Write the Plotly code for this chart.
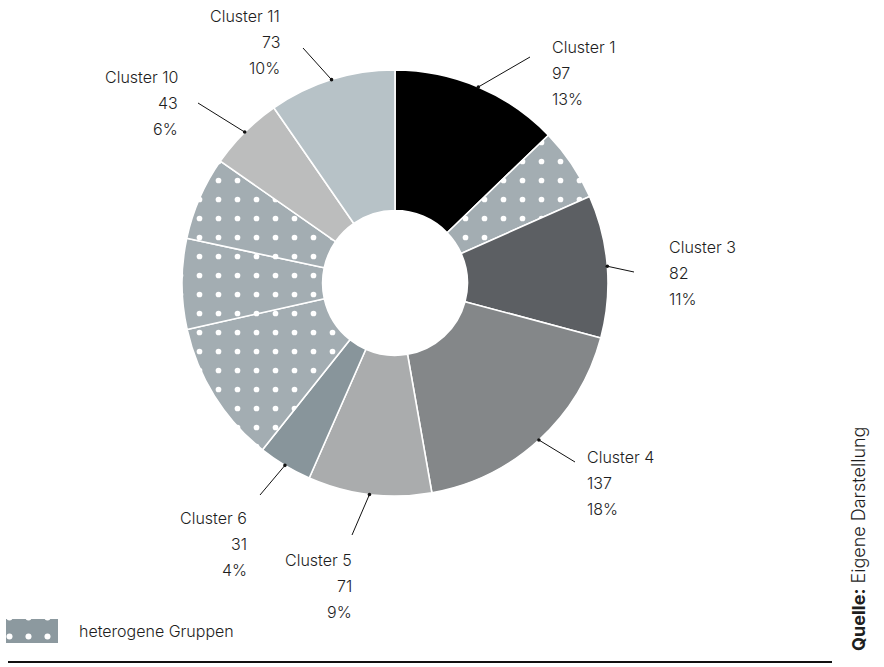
import math
import plotly.graph_objects as go

# Cluster sizes, clockwise from 12 o'clock
clusters = ["Cluster 1", "Cluster 2", "Cluster 3", "Cluster 4", "Cluster 5", "Cluster 6",
            "Cluster 7", "Cluster 8", "Cluster 9", "Cluster 10", "Cluster 11"]
counts = [97, 42, 82, 137, 71, 31, 82, 52, 48, 43, 73]
heterogeneous = [False, True, False, False, False, False, True, True, True, False, False]
colors = ["#000000", "#a3adb2", "#5c5f63", "#848789", "#aaacad", "#88959b",
          "#a3adb2", "#a3adb2", "#a3adb2", "#bcbdbd", "#b7c2c7"]
legend_label = "heterogene Gruppen"
source_text = "<b>Quelle:</b> Eigene Darstellung"

W, H = 884, 667
CX, CY, R = 395, 283, 213
HOLE = 0.34
FONT = "Inter"
WEIGHT = 300
TXT = "#1e1e1e"

# label placement: (line end x, line end y, text x, anchor, first line y)
label_pos = {
    "Cluster 1": (530, 57, 550, "left", 47),
    "Cluster 3": (634, 272, 667, "left", 247),
    "Cluster 4": (575, 462, 585, "left", 457),
    "Cluster 5": (352, 535, 354, "right", 560),
    "Cluster 6": (260, 495, 249, "right", 518),
    "Cluster 10": (198, 103, 180, "right", 77),
    "Cluster 11": (303, 48, 282, "right", 16),
}
LINE_GAP = 26

total = sum(counts)

fig = go.Figure()

fig.add_trace(go.Pie(
    labels=clusters,
    values=counts,
    sort=False,
    direction="clockwise",
    rotation=0,
    hole=HOLE,
    textinfo="none",
    hoverinfo="label+value+percent",
    showlegend=False,
    marker=dict(
        colors=colors,
        line=dict(color="white", width=1.6),
        pattern=dict(
            shape=["." if h else "" for h in heterogeneous],
            fgcolor="white",
            bgcolor=colors,
            size=19,
            solidity=0.07,
            fillmode="replace",
        ),
    ),
    domain=dict(x=[(CX - R) / W, (CX + R) / W],
                y=[1 - (CY + R) / H, 1 - (CY - R) / H]),
))

# legend swatch for the dotted slices
fig.add_trace(go.Bar(
    x=[32], y=[24], base=[619], width=[52],
    marker=dict(color="#8c999f", line=dict(width=0),
                pattern=dict(shape=".", fgcolor="white", bgcolor="#8c999f",
                             size=19, solidity=0.08, fillmode="replace")),
    showlegend=False, hoverinfo="skip",
))

shapes = []
annotations = []

cum = 0
for name, v in zip(clusters, counts):
    start = cum
    cum += v
    if name not in label_pos:
        continue
    mid = (start + v / 2) / total * 2 * math.pi
    px = CX + R * math.sin(mid)
    py = CY - R * math.cos(mid)
    ex, ey, tx, anchor, ty = label_pos[name]
    shapes.append(dict(type="line", xref="x", yref="y", x0=px, y0=py, x1=ex, y1=ey,
                       line=dict(color="#111111", width=1), layer="above"))
    shapes.append(dict(type="circle", xref="x", yref="y", x0=px - 1.8, x1=px + 1.8,
                       y0=py - 1.8, y1=py + 1.8, fillcolor="#111111",
                       line=dict(width=0), layer="above"))
    pct = round(v / total * 100)
    for i, t in enumerate([name, str(v), f"{pct}%"]):
        annotations.append(dict(x=tx, y=ty + i * LINE_GAP, xref="x", yref="y",
                                text=t, showarrow=False, xanchor=anchor, yanchor="middle",
                                font=dict(family=FONT, size=16, color=TXT, weight=WEIGHT)))

annotations.append(dict(x=77, y=631, xref="x", yref="y", text=legend_label,
                        showarrow=False, xanchor="left", yanchor="middle",
                        font=dict(family=FONT, size=16, color=TXT, weight=WEIGHT)))
annotations.append(dict(x=858, y=539, xref="x", yref="y", text=source_text,
                        showarrow=False, textangle=-90, xanchor="center", yanchor="middle",
                        font=dict(family=FONT, size=18, color=TXT, weight=WEIGHT)))

shapes.append(dict(type="line", xref="x", yref="y", x0=8, x1=832, y0=662, y1=662,
                   line=dict(color="#111111", width=2), layer="above"))

fig.update_layout(
    width=W, height=H,
    margin=dict(l=0, r=0, t=0, b=0),
    paper_bgcolor="white", plot_bgcolor="rgba(0,0,0,0)",
    xaxis=dict(range=[0, W], visible=False, fixedrange=True),
    yaxis=dict(range=[H, 0], visible=False, fixedrange=True),
    shapes=shapes,
    annotations=annotations,
    bargap=0,
)

fig.write_html("out.html")
